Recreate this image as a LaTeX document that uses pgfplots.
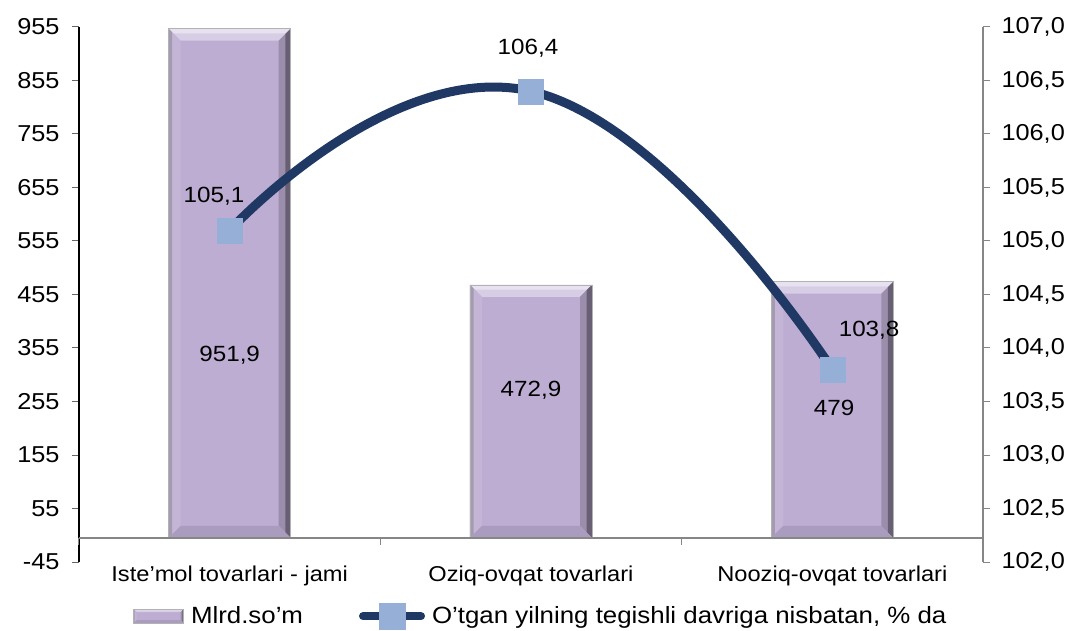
\documentclass[border=0pt]{standalone}
\usepackage{fontspec}
\setmainfont{Liberation Sans}[FakeStretch=1.1]
\usepackage{pgfplots}
\pgfplotsset{compat=1.18}
\definecolor{barcol}{HTML}{BDADD3}
\definecolor{linecol}{HTML}{1F3864}
\definecolor{markcol}{HTML}{95AFD6}
\definecolor{axgray}{HTML}{868686}
\newif\ifinbevel

\tikzset{bevel/.style={path picture={\ifinbevel\else\inbeveltrue
  \path (path picture bounding box.south west) coordinate (bSW)
        (path picture bounding box.north east) coordinate (bNE);
  \path (bSW|-bNE) coordinate (bNW) (bNE|-bSW) coordinate (bSE);
  \fill[draw=none, fill=barcol!60!white] (bNW) -- (bNE) -- ([xshift=-#1,yshift=-#1]bNE) -- ([xshift=#1,yshift=-#1]bNW) -- cycle;
  \fill[draw=none, fill=barcol!35!white] (bNW) -- (bNE) -- ([xshift=-0.4*#1,yshift=-0.4*#1]bNE) -- ([xshift=0.4*#1,yshift=-0.4*#1]bNW) -- cycle;
  \fill[draw=none, fill=barcol!82!black] (bNE) -- (bSE) -- ([xshift=-#1,yshift=#1]bSE) -- ([xshift=-#1,yshift=-#1]bNE) -- cycle;
  \fill[draw=none, fill=barcol!55!black] (bNE) -- (bSE) -- ([xshift=-0.45*#1,yshift=0.45*#1]bSE) -- ([xshift=-0.45*#1,yshift=-0.45*#1]bNE) -- cycle;
  \fill[draw=none, fill=barcol!90!white] (bNW) -- (bSW) -- ([xshift=#1,yshift=#1]bSW) -- ([xshift=#1,yshift=-#1]bNW) -- cycle;
  \fill[draw=none, fill=barcol!60!gray] (bNW) -- (bSW) -- ([xshift=0.3*#1,yshift=0.3*#1]bSW) -- ([xshift=0.3*#1,yshift=-0.3*#1]bNW) -- cycle;
  \fill[draw=none, fill=barcol!90!black] (bSW) -- (bSE) -- ([xshift=-#1,yshift=#1]bSE) -- ([xshift=#1,yshift=#1]bSW) -- cycle;
  \fi}}}

\begin{document}
\begin{tikzpicture}
\begin{axis}[
  at={(0,0)}, anchor=south west,
  scale only axis, width=904bp, height=535bp,
  xmin=-0.5, xmax=2.5, ymin=-45, ymax=955,
  axis y line*=left,
  axis x line*=bottom,
  x axis line style={draw=none},
  y axis line style={black, line width=1.2bp, -},
  xtick={0,1,2},
  xticklabels={Iste’mol tovarlari - jami, Oziq-ovqat tovarlari, Nooziq-ovqat tovarlari},
  x tick style={draw=none},
  ytick={-45,55,155,255,355,455,555,655,755,855,955},
  y tick style={black!60, line width=1bp},
  tick align=outside,
  major tick length=7bp,
  yticklabel style={/pgf/number format/assume math mode=true, font=\fontsize{23bp}{27bp}\selectfont, xshift=-9bp},
  xticklabel style={font=\fontsize{21.5bp}{25bp}\selectfont, yshift=7bp},
  ybar, bar width=0.405, bar shift=0pt,
  clip=false,
]
\addplot[fill=barcol, draw=gray!60, line width=0.8bp, bevel=12bp] coordinates {(0,951.9)};
\addplot[fill=barcol, draw=gray!60, line width=0.8bp, bevel=12bp] coordinates {(1,472.9)};
\addplot[fill=barcol, draw=gray!60, line width=0.8bp, bevel=12bp] coordinates {(2,479)};
\draw[axgray, line width=1.5bp] (axis cs:-0.5,0) -- (axis cs:2.5,0);
\draw[axgray, line width=1bp] (axis cs:-0.5,0) -- ([yshift=-7bp]axis cs:-0.5,0);
\draw[axgray, line width=1bp] (axis cs:0.5,0) -- ([yshift=-7bp]axis cs:0.5,0);
\draw[axgray, line width=1bp] (axis cs:1.5,0) -- ([yshift=-7bp]axis cs:1.5,0);
\node[font=\fontsize{22bp}{26bp}\selectfont] at (axis cs:0,342) {951,9};
\node[font=\fontsize{22bp}{26bp}\selectfont] at (axis cs:1,277) {472,9};
\node[font=\fontsize{22bp}{26bp}\selectfont] at (axis cs:2.006,243) {479};
\end{axis}
\begin{axis}[
  at={(0,0)}, anchor=south west,
  scale only axis, width=904bp, height=535bp,
  xmin=-0.5, xmax=2.5, ymin=102, ymax=107,
  axis y line*=right, axis x line=none,
  ytick={102,102.5,103,103.5,104,104.5,105,105.5,106,106.5,107},
  yticklabel style={/pgf/number format/.cd, fixed, fixed zerofill, precision=1, use comma, assume math mode=true, /tikz/.cd, font=\fontsize{23bp}{27bp}\selectfont, xshift=8bp},
  y axis line style={axgray, line width=1.5bp, -},
  y tick style={axgray, line width=1bp},
  tick align=outside, major tick length=7bp,
  clip=false,
  legend style={at={(0.511,-0.072)}, anchor=north, draw=none, fill=none, legend columns=2,
    font=\fontsize{23.5bp}{27bp}\selectfont,
    /tikz/every odd column/.append style={column sep=5bp},
    /tikz/every even column/.append style={column sep=54bp}},
]
\addlegendimage{legend image code/.code={\draw[bevel=3bp, fill=barcol, draw=gray!60, line width=0.6bp] (0bp,-7bp) rectangle (50bp,7bp);}}
\addlegendentry{Mlrd.so’m}
\addplot[smooth, tension=0.85, color=linecol, line width=9bp, mark=square*, mark size=12.5bp,
  mark options={solid, fill=markcol, draw=markcol, line width=0.3bp},
  legend image code/.code={\draw[linecol, line width=8bp, line cap=round] (0bp,0bp) -- (58bp,0bp); \fill[markcol] (20bp,-9bp) rectangle (38bp,9bp);}]
  coordinates {(0,105.1) (1,106.4) (2,103.8)};
\addlegendentry{O'tgan yilning tegishli davriga nisbatan, \% da}
\node[font=\fontsize{22bp}{26bp}\selectfont] at (axis cs:-0.052,105.42) {105,1};
\node[font=\fontsize{22bp}{26bp}\selectfont] at (axis cs:0.99,106.80) {106,4};
\node[font=\fontsize{22bp}{26bp}\selectfont] at (axis cs:2.122,104.17) {103,8};
\end{axis}
\pgfresetboundingbox
\useasboundingbox (-79bp,-69bp) rectangle (995bp,562bp);
\end{tikzpicture}
\end{document}
